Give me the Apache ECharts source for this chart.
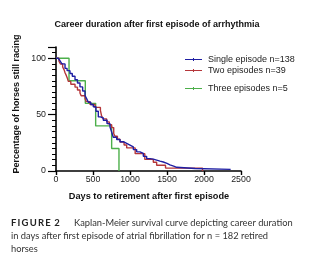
<!DOCTYPE html>
<html><head><meta charset="utf-8">
<script src="https://cdn.jsdelivr.net/npm/echarts@6/dist/echarts.min.js"></script>
<style>html,body{margin:0;padding:0;background:#fff}#c{width:314px;height:265px}</style>
</head><body><div id="c"></div>
<script>
const titleText = 'Career duration after first episode of arrhythmia';
const xTitle = 'Days to retirement after first episode';
const yTitle = 'Percentage of horses still racing';
const seriesNames = ['Single episode n=138', 'Two episodes n=39', 'Three episodes n=5'];
const xTicks = [0, 500, 1000, 1500, 2000, 2500];
const yLabels = [0, 50, 100];

// [day, % still racing] Kaplan-Meier step points
const singleDays = [0,30,54,80,122,150,189,220,257,290,324,360,392,415,437,470,504,540,572,600,639,690,730,750,774,820,865,910,955,1000,1045,1090,1135,1180,1225,1270,1315,1360,1405,1450,1500,1540,1590,1630,1880,2360];
const singleVals = [100,99,97.8,95,91,89,86.5,84,81,78,74.6,71,67,64,61,59,57,53,48,47,45,42,39,35,30,28,26,24.5,23,21.5,19,17,15.6,13,11,10.5,9.7,8.7,8,6.8,5.5,4.4,3.3,2.2,1.45,1.45];
const twoDays = [0,40,60,90,110,122,140,155,166,200,257,290,324,340,392,410,460,527,600,617,640,685,720,752,780,797,830,865,920,955,1070,1200,1315,1360,1480,1980];
const twoVals = [100,97.4,94.9,92.3,89.7,87.2,84.6,82,79.5,76.9,74.4,71.8,69.2,66.7,64.1,61.5,59,56.4,53.8,48.7,46.2,43.6,41,38.5,33.3,30.8,28.2,25.6,23.1,20.5,15.4,10.3,7.7,5.1,2.56,0];
const threeDays = [0,176,396,536,752,851];
const threeVals = [100,80,60,40,20,0];

const colors = ['#1f1fa3', '#b5363a', '#4caf4a'];
const zip = (a, b) => a.map((d, i) => [d, b[i]]);
const seriesData = [zip(singleDays, singleVals), zip(twoDays, twoVals), zip(threeDays, threeVals)];

const icon = 'path://M0,1.2h20v1.1h-20z M9.4,0h1.2v3.5h-1.2z';
const legendTops = [55, 66, 84];

const chart = echarts.init(document.getElementById('c'), null, {renderer: 'canvas'});
chart.setOption({
  animation: false,
  title: {text: titleText, left: 'center', top: 15,
    textStyle: {fontFamily: 'Liberation Sans', fontWeight: 'bold', fontSize: 9, color: '#111'}},
  legend: seriesNames.map((n, i) => ({
    data: [n], left: 185, top: legendTops[i], icon: icon, itemWidth: 17, itemHeight: 3.5, itemGap: 4,
    padding: 0, textStyle: {fontFamily: 'Liberation Sans', fontSize: 9, color: '#222', padding: [0,0,0,1]}
  })),
  grid: {left: 56, right: 73, top: 47, bottom: 94, containLabel: false},
  xAxis: {type: 'value', min: 0, max: 2500, interval: 500,
    axisLine: {lineStyle: {color: '#000', width: 1.6}},
    axisTick: {length: 4, lineStyle: {color: '#000', width: 1.4}},
    axisLabel: {fontFamily: 'Liberation Sans', fontSize: 8.8, color: '#222', margin: 4,
      formatter: v => xTicks.indexOf(v) >= 0 ? String(v) : ''},
    splitLine: {show: false}},
  yAxis: [
    {type: 'value', min: 0, max: 110, interval: 5,
      axisLine: {show: true, lineStyle: {color: '#000', width: 1.6}},
      axisTick: {show: true, length: 4, lineStyle: {color: '#000', width: 1}},
      axisLabel: {show: false}, splitLine: {show: false}},
    {type: 'value', min: 0, max: 110, interval: 50, position: 'left',
      axisLine: {show: false},
      axisTick: {show: true, length: 8, lineStyle: {color: '#000', width: 1.2}},
      axisLabel: {fontFamily: 'Liberation Sans', fontSize: 8.8, color: '#222', margin: 10,
        formatter: v => yLabels.indexOf(v) >= 0 ? String(v) : ''},
      splitLine: {show: false}}
  ],
  series: seriesNames.map((n, i) => ({
    name: n, type: 'line', step: 'end', data: seriesData[i], showSymbol: false, symbol: 'none',
    yAxisIndex: 0, z: i === 0 ? 8 : 3 - i,
    lineStyle: {color: colors[i], width: 1.4}, itemStyle: {color: colors[i]}
  })),
  graphic: [
    {type: 'text', x: 149, y: 196, style: {text: xTitle, font: 'bold 9.2px "Liberation Sans"', fill: '#111', align: 'center', verticalAlign: 'middle'}},
    {type: 'text', x: 17, y: 104, rotation: Math.PI / 2, style: {text: yTitle, font: 'bold 9px "Liberation Sans"', fill: '#111', align: 'center', verticalAlign: 'middle'}},
    {type: 'text', x: 11, y: 223, style: {text: 'F\u2009I\u2009G\u2009U\u2009R\u2009E\u2009 2', font: 'bold 9.5px Lato', fill: '#222', verticalAlign: 'middle'}},
    {type: 'text', x: 74, y: 223, style: {text: 'Kaplan-Meier survival curve depicting career duration', font: '9.3px Lato', fill: '#333', verticalAlign: 'middle'}},
    {type: 'text', x: 11, y: 236, style: {text: 'in days after first episode of atrial fibrillation for n = 182 retired', font: '9.3px Lato', fill: '#333', verticalAlign: 'middle'}},
    {type: 'text', x: 11, y: 249, style: {text: 'horses', font: '9.3px Lato', fill: '#333', verticalAlign: 'middle'}}
  ]
});
</script></body></html>
